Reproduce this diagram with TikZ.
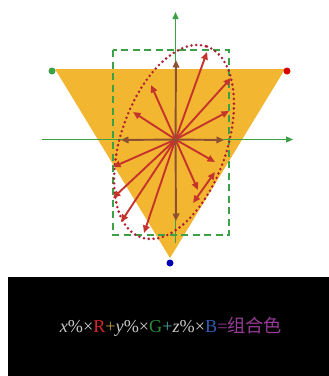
\documentclass[tikz,border=0pt]{standalone}
\usepackage{fontspec}
\setmainfont{Liberation Serif}
\newfontfamily\cjk{Noto Sans CJK SC}
\usetikzlibrary{arrows.meta}
\definecolor{tri}{RGB}{242,182,48}
\definecolor{axg}{RGB}{60,160,70}
\definecolor{arr}{RGB}{196,52,44}
\definecolor{axa}{RGB}{140,80,50}
\definecolor{ell}{RGB}{176,30,50}
\definecolor{tgray}{RGB}{200,200,200}
\definecolor{tred}{RGB}{210,40,40}
\definecolor{tgold}{RGB}{190,150,60}
\definecolor{tgreen}{RGB}{40,140,60}
\definecolor{tteal}{RGB}{60,160,150}
\definecolor{tblue}{RGB}{50,90,180}
\definecolor{tpurple}{RGB}{150,60,150}
\tikzset{
  axis/.style={axg, line width=1.3pt, -{Triangle[length=7pt,width=6pt]}},
  ray/.style={arr, line width=1.9pt, -{Triangle[length=7.5pt,width=6.5pt]}},
  axray/.style={axa, line width=1.9pt, -{Triangle[length=7.5pt,width=6.5pt]}},
  dot/.style={circle, inner sep=0pt, minimum size=7pt},
}
\begin{document}
\begin{tikzpicture}[x=1pt,y=-1pt]
\useasboundingbox (0,0) rectangle (329,376);
\fill[white] (0,0) rectangle (329,376);
% triangle
\coordinate (tl) at (55,69);
\coordinate (tr) at (285,69);
\coordinate (tb) at (170,258);
\fill[tri] (tl) -- (tr) -- (tb) -- cycle;
\node[dot, fill=axg] (gdot) at (52,71) {};
\node[dot, fill=red!85!black] (rdot) at (287,71) {};
\node[dot, fill=blue!70!black] (bdot) at (170,263) {};
% dashed box
\draw[axg, line width=1.7pt, dash pattern=on 7pt off 4.5pt] (113,50) rectangle (229,235);
% axes
\coordinate (o) at (175.5,139.5);
\coordinate (xl) at (42,139.5);
\coordinate (xr) at (293,139.5);
\coordinate (yb) at (175.5,243);
\coordinate (yt) at (175.5,12);
\draw[axis] (xl) -- (xr);
\draw[axis] (yb) -- (yt);
% ellipse
\draw[ell, line width=2.8pt, dash pattern=on 0pt off 4.8pt, line cap=round]
  (174,142) ellipse[x radius=101, y radius=53, rotate=71];
% rays
\foreach \p in {(207,52),(231,78),(229,111),(215,162),(198,190),(144,233),(121,222),(113,198),(113,167),(133,112),(151,85)}
  \draw[ray] (o) -- \p;
\foreach \p in {(176,60),(224,140),(176,221),(121,140)}
  \draw[axray] (o) -- \p;
\coordinate (ta) at (193,203);
\coordinate (tb2) at (215,172);
\draw[arr, line width=1.9pt, {Triangle[length=7.5pt,width=6.5pt]}-{Triangle[length=7.5pt,width=6.5pt]}] (ta) -- (tb2);
% black bar
\fill[black] (8,277) rectangle (329,376);
\node[anchor=base, inner sep=0pt, font=\fontsize{18.2}{21}\selectfont] (eq) at (171,332)
  {\textcolor{tgray}{\textit{x}\%×}\textcolor{tred}{R}\textcolor{tgold}{+}\textcolor{tgray}{\textit{y}\%×}\textcolor{tgreen}{G}\textcolor{tteal}{+}\textcolor{tgray}{\textit{z}\%×}\textcolor{tblue}{B}\textcolor{tpurple}{={\cjk 组合色}}};
\end{tikzpicture}
\end{document}
